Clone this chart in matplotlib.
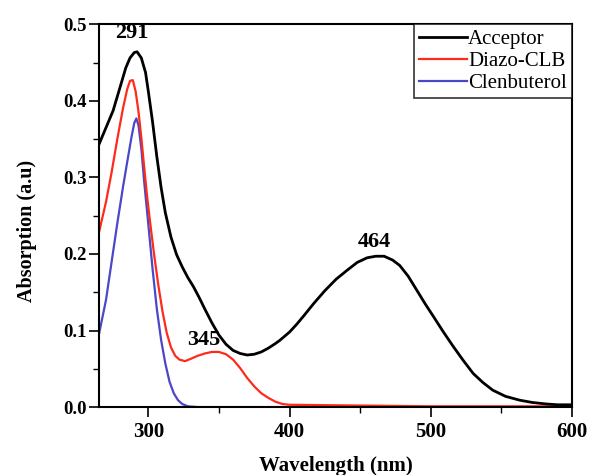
import matplotlib
matplotlib.use("Agg")
import matplotlib.pyplot as plt
from matplotlib.ticker import MultipleLocator

plt.rcParams['font.family'] = ['Liberation Serif', 'DejaVu Serif']

wl_acc = [265, 270, 275, 280, 284, 287, 290, 292, 295, 298, 300, 303, 306, 309, 312, 316, 320, 324, 328, 332, 336, 340, 345, 350, 355, 360, 365, 370, 375, 380, 385, 390, 393, 400, 405, 410, 417, 425, 433, 441, 448, 455, 461, 467, 473, 478, 484, 490, 496, 502, 509, 516, 523, 530, 537, 544, 553, 563, 572, 582, 590, 600]
acceptor = [0.343, 0.365, 0.387, 0.418, 0.443, 0.456, 0.463, 0.464, 0.456, 0.437, 0.412, 0.372, 0.327, 0.287, 0.254, 0.222, 0.199, 0.183, 0.169, 0.157, 0.143, 0.128, 0.11, 0.094, 0.082, 0.074, 0.07, 0.068, 0.069, 0.072, 0.077, 0.083, 0.087, 0.098, 0.108, 0.119, 0.135, 0.152, 0.167, 0.179, 0.189, 0.195, 0.197, 0.197, 0.192, 0.185, 0.171, 0.153, 0.135, 0.118, 0.098, 0.079, 0.061, 0.044, 0.032, 0.022, 0.014, 0.009, 0.006, 0.004, 0.003, 0.003]

wl_dia = [265, 270, 274, 278, 282, 285, 287, 289, 291, 293, 295, 297, 299, 301, 304, 307, 310, 313, 316, 319, 322, 326, 330, 335, 340, 345, 350, 355, 360, 365, 370, 375, 380, 385, 390, 395, 400, 450, 500, 600]
diazo = [0.228, 0.268, 0.307, 0.35, 0.39, 0.415, 0.426, 0.427, 0.412, 0.386, 0.352, 0.314, 0.277, 0.245, 0.2, 0.16, 0.125, 0.097, 0.078, 0.067, 0.062, 0.06, 0.063, 0.067, 0.07, 0.072, 0.072, 0.069, 0.062, 0.051, 0.038, 0.027, 0.018, 0.012, 0.007, 0.004, 0.003, 0.002, 0.001, 0.001]

wl_cle = [265, 270, 274, 278, 282, 285, 288, 290, 291.5, 293, 295, 297, 300, 303, 306, 309, 312, 315, 318, 321, 324, 328, 335, 400, 500, 600]
clen = [0.095, 0.14, 0.19, 0.24, 0.287, 0.32, 0.352, 0.371, 0.377, 0.368, 0.338, 0.295, 0.238, 0.18, 0.128, 0.088, 0.057, 0.033, 0.018, 0.009, 0.004, 0.001, 0.0, 0.0, 0.0, 0.0]

labels = ['Acceptor', 'Diazo-CLB', 'Clenbuterol']
peaks = ['291', '345', '464']

fig = plt.figure(figsize=(5.89, 4.75), dpi=100)
ax = fig.add_axes([0.168, 0.143, 0.803, 0.806])

ax.plot(wl_acc, acceptor, color='black', lw=2.0, label=labels[0], zorder=3,
        solid_joinstyle='round')
ax.plot(wl_dia, diazo, color='#ff2a1a', lw=1.6, label=labels[1], zorder=2,
        solid_joinstyle='round')
ax.plot(wl_cle, clen, color='#4848c8', lw=1.6, label=labels[2], zorder=1,
        solid_joinstyle='round')

ax.set_xlim(265, 600)
ax.set_ylim(0, 0.5)
ax.xaxis.set_major_locator(MultipleLocator(100))
ax.xaxis.set_minor_locator(MultipleLocator(50))
ax.yaxis.set_major_locator(MultipleLocator(0.1))
ax.yaxis.set_minor_locator(MultipleLocator(0.05))
ax.tick_params(which='both', direction='out', top=False, right=False)
ax.tick_params(which='major', length=7, width=1.2)
ax.tick_params(which='minor', length=4, width=1.0)
ax.tick_params(axis='x', labelsize=15, pad=4)
ax.tick_params(axis='y', labelsize=13.5, pad=2)
for lab in ax.get_xticklabels() + ax.get_yticklabels():
    lab.set_fontweight('bold')
for s in ax.spines.values():
    s.set_linewidth(1.5)

ax.set_xlabel('Wavelength (nm)', fontsize=15, fontweight='bold', labelpad=10)
ax.set_ylabel('Absorption (a.u)', fontsize=14.5, fontweight='bold')
ax.yaxis.set_label_coords(-0.13, 0.46)

ax.text(288.5, 0.488, peaks[0], ha='center', va='center', fontsize=16, fontweight='bold')
ax.text(339.5, 0.088, peaks[1], ha='center', va='center', fontsize=16, fontweight='bold')
ax.text(460, 0.215, peaks[2], ha='center', va='center', fontsize=16, fontweight='bold')

leg = ax.legend(loc='upper right', fontsize=15, frameon=True, fancybox=False,
                edgecolor='black', borderaxespad=0, handlelength=2.3,
                handletextpad=0.05, labelspacing=0.12, borderpad=0.25)
leg.get_frame().set_linewidth(1.2)

fig.savefig('out.png', dpi=100)
